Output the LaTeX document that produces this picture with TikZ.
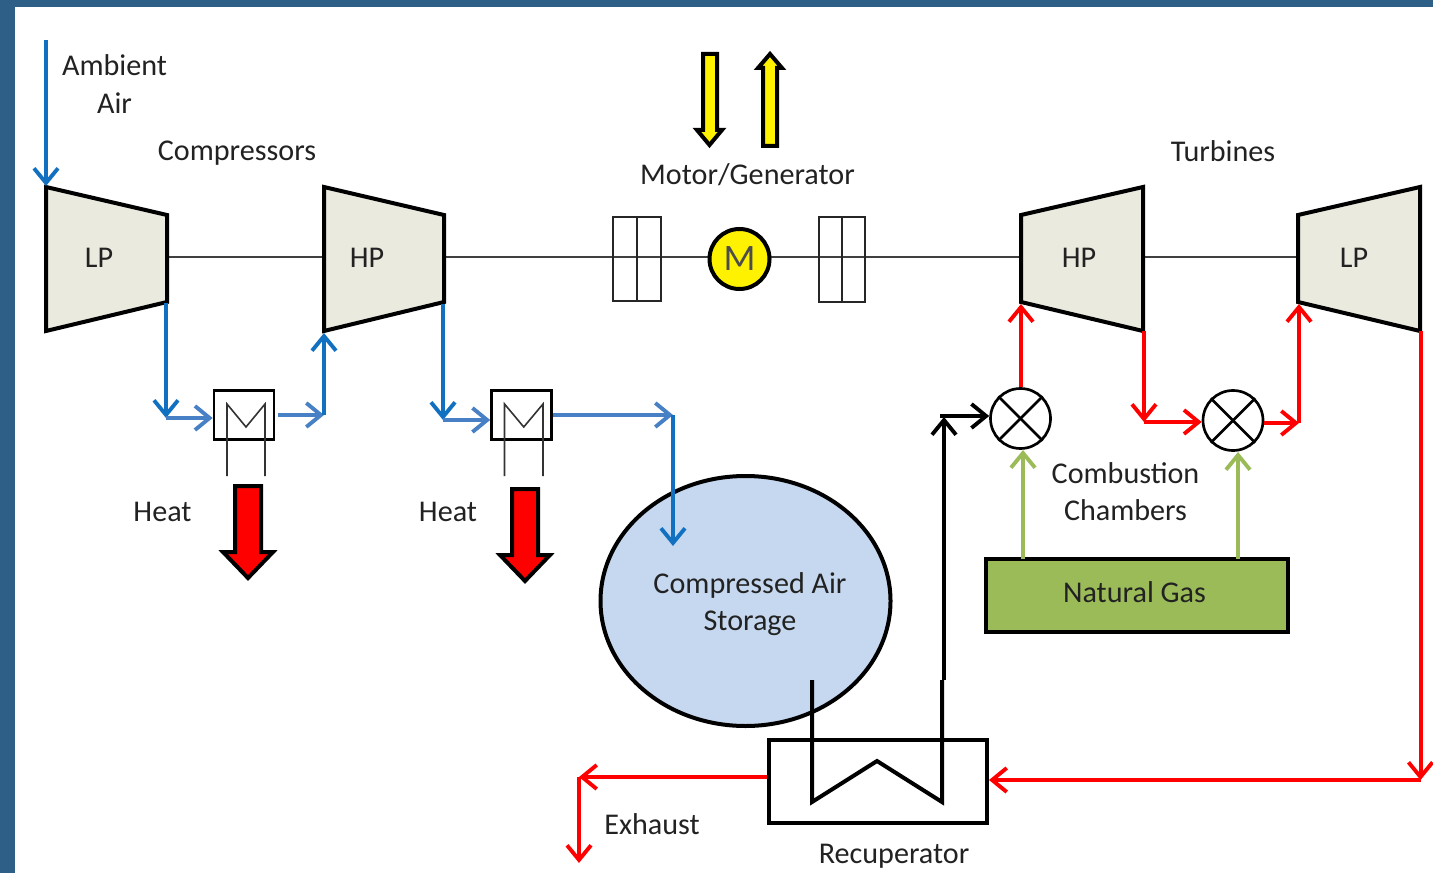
\documentclass[tikz,border=0pt]{standalone}
\usepackage{fontspec}
\setmainfont{Carlito}
\usetikzlibrary{arrows.meta,calc,shapes.geometric}
\definecolor{bgblue}{HTML}{2E5F86}
\definecolor{flowblue}{HTML}{1270C0}
\definecolor{paleblue}{HTML}{4780C4}
\definecolor{beige}{HTML}{EBEADF}
\definecolor{storage}{HTML}{C6D8F0}
\definecolor{gasgreen}{HTML}{9BBB59}
\definecolor{flowred}{HTML}{FF0000}
\definecolor{txt}{HTML}{222222}
\tikzset{
  x=0.75pt,y=-0.75pt,
  tip/.style={-{Straight Barb[length=11pt,width=18pt,line width=2.9pt]}},
  blueflow/.style={draw=flowblue,line width=3pt,tip},
  paleflow/.style={draw=paleblue,line width=3pt,tip},
  redflow/.style={draw=flowred,line width=3pt,tip},
  greenflow/.style={draw=gasgreen,line width=3pt,tip},
  blackflow/.style={draw=black,line width=3pt,tip},
  machine/.style={draw=black,fill=beige,line width=3pt,line join=miter},
  shaft/.style={draw=black!75,line width=1.1pt},
  thinbox/.style={draw=black!85,line width=1pt},
  label/.style={font=\fontsize{22.6}{25}\selectfont,text=txt,inner sep=0pt,align=center},
  cooler/.style={draw=black,line width=2pt,fill=white,minimum width=45pt,minimum height=36.75pt,inner sep=0pt},
  mixer/.style={circle,draw=black,line width=2pt,fill=white,minimum size=45pt,inner sep=0pt},
  bigarrow/.style={draw=black,line width=3pt,line join=miter},
}
\begin{document}
\begin{tikzpicture}
\useasboundingbox (0,0) rectangle (1433,873);
\fill[bgblue] (0,0) rectangle (1433,873);
\fill[white] (15,7) rectangle (1433,873);

% shaft
\coordinate (shL) at (167,257);
\coordinate (shLa) at (324,257);
\coordinate (shB) at (444,257);
\coordinate (shC) at (1021,257);
\coordinate (shD) at (1143,257);
\coordinate (shE) at (1298,257);
\draw[shaft] (shL) -- (shLa);
\draw[shaft] (shB) -- (shC);
\draw[shaft] (shD) -- (shE);

% couplings
\draw[thinbox] (613,217) rectangle (661,301);
\draw[thinbox] (637,217) -- (637,301);
\draw[thinbox] (819,217) rectangle (865,302);
\draw[thinbox] (842,217) -- (842,302);

% machines
\draw[machine] (46,187) -- (167,215) -- (167,302) -- (46,331) -- cycle;
\draw[machine] (324,187) -- (444,215) -- (444,302) -- (324,331) -- cycle;
\draw[machine] (1021,215) -- (1143,187) -- (1143,331) -- (1021,302) -- cycle;
\draw[machine] (1298,215) -- (1420,187) -- (1420,331) -- (1298,302) -- cycle;
\coordinate (lpcIn) at (46,186);
\coordinate (lpcOut) at (166,303);
\coordinate (hpcIn) at (324,333);
\coordinate (hpcOut) at (443,304);
\coordinate (hptIn) at (1021,304);
\coordinate (hptOut) at (1144,331);
\coordinate (lptIn) at (1299,304);
\coordinate (lptOut) at (1420.5,331);
\node[label] (lpcT) at (99,258) {LP};
\node[label] (hpcT) at (367,258) {HP};
\node[label] (hptT) at (1079,258) {HP};
\node[label] (lptT) at (1354,258) {LP};

% motor
\node[circle,draw=black,line width=3pt,fill=yellow,minimum size=45pt,inner sep=0pt,font=\fontsize{28}{30}\selectfont,text=black!70] (motor) at (739.5,259) {M};

% coolers
\node[cooler] (c1) at (244,415) {};
\node[cooler] (c2) at (521.5,415) {};
\foreach \xa/\xb in {227/265,504.5/543}{
  \draw[draw=black!80,line width=1.2pt,line join=miter]
    (\xa,476) -- (\xa,404) -- ({(\xa+\xb)/2},427) -- (\xb,404) -- (\xb,476);
}

% blue flows
\coordinate (ambient) at (46,40);
\draw[blueflow] (ambient) -- (lpcIn);
\coordinate (b1) at (166,418);
\coordinate (b2) at (324,415);
\coordinate (b3) at (443,420);
\coordinate (b4) at (673,415);
\coordinate (b5) at (673,546);
\draw[blueflow] (lpcOut) -- (b1);
\draw[paleflow] (b1) -- (c1.west|-b1);
\draw[paleflow] (c1.east|-b2) ++(3,0) -- (b2);
\draw[blueflow] (b2) -- (hpcIn);
\draw[blueflow] (hpcOut) -- (b3);
\draw[paleflow] (b3) -- (c2.west|-b3);
\draw[paleflow] (c2.east|-b4) -- (b4);

% heat arrows
\foreach \x/\t in {248/486,525/489}{
  \draw[bigarrow,fill=flowred] (\x-13,\t) -- (\x+13,\t) -- (\x+13,\t+66) -- (\x+25,\t+66) -- (\x,\t+92) -- (\x-25,\t+66) -- (\x-13,\t+66) -- cycle;
}
\node[label] (heat1) at (162.5,512) {Heat};
\node[label] (heat2) at (448,512) {Heat};

% storage
\node[ellipse,draw=black,line width=3pt,fill=storage,minimum width=217.5pt,minimum height=187.5pt,inner sep=0pt] (tank) at (745.5,601) {};
\node[label] (tankT) at (750,604) {Compressed Air\\[3pt]Storage};
\draw[blueflow] (b4) -- (b5);

% yellow arrows
\draw[bigarrow,fill=yellow] (703,54) -- (717,54) -- (717,130) -- (722,130) -- (709.5,145) -- (697,130) -- (703,130) -- cycle;
\draw[bigarrow,fill=yellow] (763,146) -- (777,146) -- (777,68) -- (782,68) -- (770,54) -- (758,68) -- (763,68) -- cycle;
\node[label] (mg) at (747.5,175) {Motor/Generator};

% recuperator
\node[draw=black,line width=3pt,fill=none,minimum width=163.5pt,minimum height=62.25pt,inner sep=0pt] (rec) at (878,781) {};
\coordinate (coilA) at (812,680);
\coordinate (coilB) at (812,802);
\coordinate (coilC) at (877,761);
\coordinate (coilD) at (942,802);
\coordinate (coilE) at (942,680);
\draw[draw=black,line width=3pt,line join=miter] (coilA) -- (coilB) -- (coilC) -- (coilD) -- (coilE);
\node[label] (recT) at (894,856) {Recuperator};
\node[label] (exT) at (652,824) {Exhaust};

% mixers and gas
\node[mixer] (m1) at (1020.5,418.5) {};
\node[mixer] (m2) at (1233,420.5) {};
\foreach \m in {m1,m2}{
  \draw[draw=black,line width=2pt] (\m.45) -- (\m.225);
  \draw[draw=black,line width=2pt] (\m.135) -- (\m.315);
}
\node[draw=black,line width=3pt,fill=gasgreen,minimum width=226.5pt,minimum height=54.75pt,inner sep=0pt] (gas) at (1136.5,595) {};
\node[label] (gasT) at (1134.5,592) {Natural Gas};
\node[label] (ccT) at (1125.5,491.5) {Combustion\\[3pt]Chambers};

\coordinate (upS) at (944,680);
\coordinate (up) at (944,417);
\coordinate (bk1) at (940,416);
\draw[blackflow] (upS) -- (up);
\draw[blackflow] (bk1) -- (m1.west|-bk1);
\draw[redflow] (hptIn|-m1.north) -- (hptIn);
\coordinate (r1) at (1144,422);
\draw[redflow] (hptOut) -- (r1);
\draw[redflow] (r1) -- (m2.west|-r1);
\coordinate (r2) at (1299,423);
\draw[redflow] (m2.east|-r2) -- (r2);
\draw[redflow] (r2) -- (lptIn);
\coordinate (g1a) at (1023,559);
\coordinate (g1b) at (1023,450);
\coordinate (g2a) at (1238,559);
\coordinate (g2b) at (1238,452);
\draw[greenflow] (g1a) -- (g1b);
\draw[greenflow] (g2a) -- (g2b);
\coordinate (r3) at (1420.5,780);
\draw[redflow] (lptOut) -- (r3);
\draw[redflow] (r3) -- (rec.east|-r3);
\coordinate (r4) at (579,777);
\draw[redflow] (rec.west|-r4) -- (r4);
\coordinate (r5) at (579,863);
\draw[redflow] (r4) -- (r5);

\node[label] (amb) at (114.5,84) {Ambient\\[3pt]Air};
\node[label] (compT) at (237,153) {Compressors};
\node[label] (turbT) at (1223,151) {Turbines};
\end{tikzpicture}
\end{document}
